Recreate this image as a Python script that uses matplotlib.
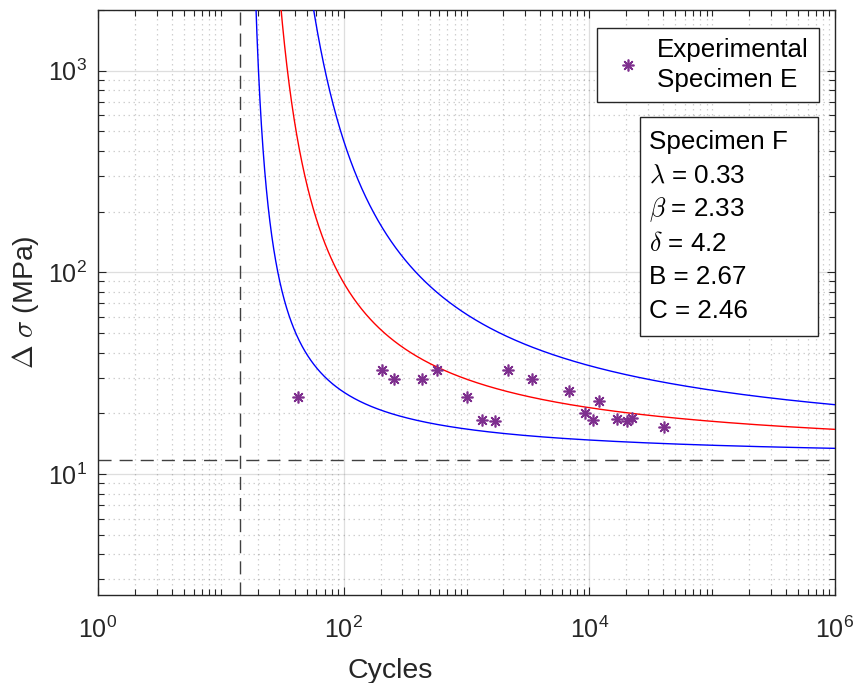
import numpy as np
import matplotlib
matplotlib.use("Agg")
import matplotlib.pyplot as plt
from matplotlib.ticker import LogLocator, NullFormatter, FixedLocator, FuncFormatter
from matplotlib.patches import Rectangle

plt.rcParams['font.family'] = ['Liberation Sans', 'DejaVu Sans']
plt.rcParams['mathtext.fontset'] = 'custom'
plt.rcParams['mathtext.rm'] = 'Liberation Sans'
plt.rcParams['mathtext.it'] = 'Liberation Sans:italic'
plt.rcParams['mathtext.bf'] = 'Liberation Sans:bold'

# ---- data ----
N_exp = [42.5, 204, 257, 432, 579, 1004, 1345, 1718, 2164, 3434,
         6790, 9220, 10650, 11920, 16700, 20370, 22250, 40530]
S_exp = [24.1, 32.8, 29.5, 29.5, 32.8, 24.0, 18.5, 18.4, 32.8, 29.5,
         25.9, 20.1, 18.5, 23.0, 18.7, 18.4, 19.0, 17.0]

# model parameters (shown in the text box)
lam, beta, delta, B, C = 0.33, 2.33, 4.2, 2.67, 2.46
percentiles = [0.05, 0.50, 0.95]
curve_colors = ['#0000ff', '#ff0000', '#0000ff']

xticks = [1e0, 1e2, 1e4, 1e6]
yticks = [1e1, 1e2, 1e3]
xlim = (1, 1e6)
ylim = (2.5, 2000)

box_lines = ['Specimen F', r'$\lambda$ = 0.33', r'$\beta$ = 2.33',
             r'$\delta$ = 4.2', 'B = 2.67', 'C = 2.46']
legend_label = 'Experimental\nSpecimen E'

# ---- figure ----
W, H = 858, 683
fig = plt.figure(figsize=(W / 100, H / 100), dpi=100)
ax = fig.add_axes([98 / W, 1 - 595.4 / H, 737 / W, 585.6 / H])

def fx(x):
    return x / W

def fy(y):
    return 1 - y / H

ax.set_xscale('log')
ax.set_yscale('log')
ax.set_xlim(*xlim)
ax.set_ylim(*ylim)

# grid
gc = (0.15, 0.15, 0.15)
ax.grid(True, which='major', color=gc, alpha=0.15, linestyle='-', linewidth=0.9)
ax.grid(True, which='minor', color=gc, alpha=0.22, linewidth=0.9, dashes=(1.2, 2.8))
ax.set_axisbelow(True)

# asymptotes
ax.axvline(np.exp(B), color='0.25', linewidth=1.0, dashes=(9.4, 5.8), zorder=2)
ax.axhline(np.exp(C), color='0.25', linewidth=1.0, dashes=(9.4, 5.8), zorder=2)

# percentile curves
lnN = np.linspace(B + 1e-4, np.log(xlim[1]), 4000)
for p, col in zip(percentiles, curve_colors):
    v = lam + delta * (-np.log(1 - p)) ** (1 / beta)
    S = np.exp(C + v / (lnN - B))
    ax.plot(np.exp(lnN), S, color=col, linewidth=1.0, zorder=3)

# experimental points
ax.plot(N_exp, S_exp, linestyle='none', marker=(8, 2, 0), markersize=8.5,
        markeredgewidth=1.2, color=(0.494, 0.184, 0.556), zorder=4,
        label=legend_label)

# ticks
ax.xaxis.set_major_locator(FixedLocator(xticks))
ax.xaxis.set_minor_locator(LogLocator(base=10, subs=np.arange(1, 10), numticks=30))
ax.yaxis.set_major_locator(FixedLocator(yticks))
ax.yaxis.set_minor_locator(LogLocator(base=10, subs=np.arange(1, 10), numticks=30))
fmt = FuncFormatter(lambda v, pos: r'$10^{%d}$' % int(round(np.log10(v))))
ax.xaxis.set_major_formatter(fmt)
ax.yaxis.set_major_formatter(fmt)
ax.xaxis.set_minor_formatter(NullFormatter())
ax.yaxis.set_minor_formatter(NullFormatter())
ax.tick_params(which='both', direction='in', top=True, right=True, color=gc,
               labelcolor=gc, labelsize=18, width=0.8)
ax.tick_params(which='major', length=6)
ax.tick_params(which='minor', length=4)
ax.tick_params(axis='x', which='major', pad=15)
ax.tick_params(axis='y', which='major', pad=8)
for s in ax.spines.values():
    s.set_color(gc)
    s.set_linewidth(1.0)

# axis labels
ax.set_xlabel('Cycles', fontsize=20.5, color=gc)
ax.xaxis.set_label_coords((390 - 98) / 737, -(658 - 595.4) / 585.6)
ax.set_ylabel(r'$\Delta$ $\sigma$ (MPa)', fontsize=20.5, color=gc, math_fontfamily='cm')
ax.yaxis.set_label_coords(-(98 - 41) / 737, 0.5)

# legend
leg = ax.legend(loc='upper left', bbox_to_anchor=(fx(597), fy(28)),
                bbox_transform=fig.transFigure, borderaxespad=0,
                fontsize=18.7, frameon=True, fancybox=False, framealpha=1,
                edgecolor=gc, borderpad=0.4, handlelength=1.6,
                handletextpad=0.3)
leg.get_frame().set_linewidth(1.0)
for t in leg.get_texts():
    t.set_linespacing(1.28)

# parameter text box
rect = Rectangle((fx(639.5), fy(335.5)), (817.5 - 639.5) / W, (335.5 - 116.5) / H,
                 transform=fig.transFigure, facecolor='white', edgecolor=gc,
                 linewidth=1.0, zorder=5)
fig.patches.append(rect)
line_y = [141.7, 176, 210, 244, 277, 310.5]
for txt, yy in zip(box_lines, line_y):
    fig.text(fx(649), fy(yy), txt, fontsize=18.7, va='center', ha='left',
             color='black', math_fontfamily='cm', zorder=6)

fig.savefig('out.png', dpi=100)
